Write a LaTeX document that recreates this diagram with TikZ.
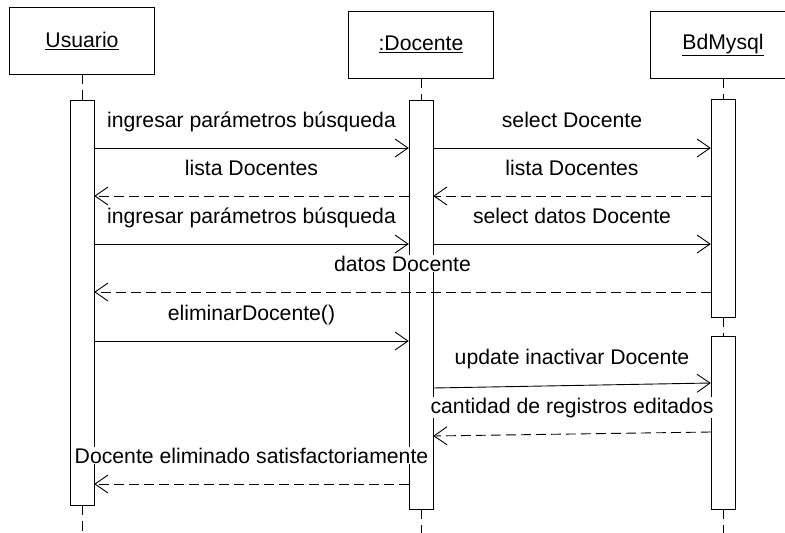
\documentclass[tikz,border=0pt]{standalone}
\usepackage{fontspec}
\setmainfont{Liberation Sans}
\usetikzlibrary{arrows.meta}

\begin{document}
\begin{tikzpicture}
	[
	x=1pt,y=-1pt,
	font=\fontsize{21.2}{25}\selectfont,
	object/.style={rectangle,draw,fill=white,minimum width=145pt,minimum height=67pt,anchor=north},
	activation/.style={rectangle,draw,fill=white,minimum width=24pt,inner sep=0pt,anchor=north},
	lifeline/.style={draw,line width=1pt,dash pattern=on 10pt off 6pt},
	call/.style={draw,line width=0.9pt,-{Straight Barb[length=13pt,width=18pt]}},
	reply/.style={call,dash pattern=on 10pt off 5pt},
	msg/.style={fill=white,inner sep=1pt,anchor=base,yshift=21pt},
	]
	\useasboundingbox (0,0) rectangle (785,533);
	\clip (0,0) rectangle (785,533);
	\coordinate (bottom) at (0,533);
	\node[object] (user) at (82,7) {\underline{Usuario}};
	\node[object] (doc) at (421,11) {\underline{:Docente}};
	\node[object] (bd) at (723,11) {\underline{BdMysql}};
	\node[activation,minimum height=405pt] (uact) at (82,100) {};
	\node[activation,minimum height=409pt] (dact) at (421,100) {};
	\node[activation,minimum height=218pt] (bact1) at (723,99) {};
	\node[activation,minimum height=173pt] (bact2) at (723,336) {};
	\foreach \a/\b in {user/uact,doc/dact,bd/bact1,bact1/bact2}
		\draw[lifeline] (\a.south) -- (\b.north);
	\foreach \a in {uact,dact,bact2}
		\draw[lifeline] (\a.south) -- (\a.south |- bottom);
	\draw[call] (uact.east |- 0,148) -- (dact.west |- 0,148) node[msg,midway] {ingresar parámetros búsqueda};
	\draw[call] (dact.east |- 0,148) -- (bact1.west |- 0,148) node[msg,midway] {select Docente};
	\draw[reply] (bact1.west |- 0,196) -- (dact.east |- 0,196) node[msg,midway] {lista Docentes};
	\draw[reply] (dact.west |- 0,196) -- (uact.east |- 0,196) node[msg,midway] {lista Docentes};
	\draw[call] (uact.east |- 0,244) -- (dact.west |- 0,244) node[msg,midway] {ingresar parámetros búsqueda};
	\draw[call] (dact.east |- 0,244) -- (bact1.west |- 0,244) node[msg,midway] {select datos Docente};
	\draw[reply] (bact1.west |- 0,292) -- (uact.east |- 0,292) node[msg,midway] {datos Docente};
	\draw[call] (uact.east |- 0,341) -- (dact.west |- 0,341) node[msg,midway] {eliminarDocente()};
	\draw[call] (dact.east |- 0,388) -- (bact2.west |- 0,383) node[msg,midway] {update inactivar Docente};
	\draw[reply] (bact2.west |- 0,432) -- (dact.east |- 0,436) node[msg,midway] {cantidad de registros editados};
	\draw[reply] (dact.west |- 0,484) -- (uact.east |- 0,484) node[msg,midway] {Docente eliminado satisfactoriamente};
\end{tikzpicture}
\end{document}
